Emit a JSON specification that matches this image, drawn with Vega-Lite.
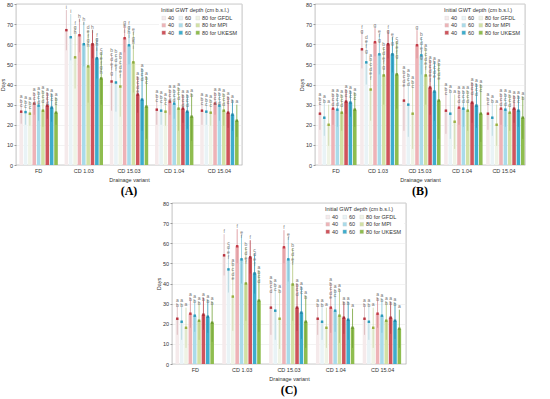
{
"$schema":"https://vega.github.io/schema/vega-lite/v6.json",
"padding":{"left":0,"top":1,"right":0,"bottom":0},
"datasets":{"all":[
{"p":"A","v":"FD","k":"G40","m":26.5,"lo":20.5,"hi":32.5,"L":"a b c"},
{"p":"A","v":"FD","k":"G60","m":26.3,"lo":20,"hi":32,"L":"a b c"},
{"p":"A","v":"FD","k":"G80","m":25.5,"lo":19.5,"hi":31.5,"L":"a b c"},
{"p":"A","v":"FD","k":"M40","m":30.5,"lo":25,"hi":36,"L":"a b c d"},
{"p":"A","v":"FD","k":"M60","m":29.5,"lo":22,"hi":36.5,"L":"a b c d"},
{"p":"A","v":"FD","k":"M80","m":27,"lo":19,"hi":37,"L":"a b c d"},
{"p":"A","v":"FD","k":"U40","m":29.5,"lo":23,"hi":36,"L":"a b c d"},
{"p":"A","v":"FD","k":"U60","m":28.5,"lo":21.5,"hi":35.5,"L":"a b c"},
{"p":"A","v":"FD","k":"U80","m":26,"lo":20,"hi":33.5,"L":"a b c"},
{"p":"A","v":"CD 1.03","k":"G40","m":67,"lo":57,"hi":77,"L":"i"},
{"p":"A","v":"CD 1.03","k":"G60","m":63.5,"lo":52,"hi":75,"L":"i"},
{"p":"A","v":"CD 1.03","k":"G80","m":53.5,"lo":38,"hi":69,"L":"f g h"},
{"p":"A","v":"CD 1.03","k":"M40","m":64.5,"lo":56,"hi":72.5,"L":"h i"},
{"p":"A","v":"CD 1.03","k":"M60","m":60,"lo":49,"hi":71,"L":"h i"},
{"p":"A","v":"CD 1.03","k":"M80","m":49,"lo":31,"hi":67,"L":"d e f g h"},
{"p":"A","v":"CD 1.03","k":"U40","m":60,"lo":53,"hi":67,"L":"h i"},
{"p":"A","v":"CD 1.03","k":"U60","m":53,"lo":43,"hi":63,"L":"f g h i"},
{"p":"A","v":"CD 1.03","k":"U80","m":43,"lo":30,"hi":56,"L":"c d e f g h"},
{"p":"A","v":"CD 15.03","k":"G40","m":41.5,"lo":27,"hi":55.5,"L":"b c d e f g"},
{"p":"A","v":"CD 15.03","k":"G60","m":41,"lo":26.5,"hi":55,"L":"b c d e f"},
{"p":"A","v":"CD 15.03","k":"G80","m":39,"lo":24,"hi":54,"L":"a b c d e f"},
{"p":"A","v":"CD 15.03","k":"M40","m":63,"lo":56,"hi":69.5,"L":"g h i"},
{"p":"A","v":"CD 15.03","k":"M60","m":59.5,"lo":50,"hi":69,"L":"f g h i"},
{"p":"A","v":"CD 15.03","k":"M80","m":51,"lo":36,"hi":66,"L":"e f g h i"},
{"p":"A","v":"CD 15.03","k":"U40","m":35,"lo":26,"hi":44,"L":"a b c d e"},
{"p":"A","v":"CD 15.03","k":"U60","m":32.5,"lo":17,"hi":48,"L":"a b c d"},
{"p":"A","v":"CD 15.03","k":"U80","m":29,"lo":13,"hi":44,"L":"a b c"},
{"p":"A","v":"CD 1.04","k":"G40","m":27.5,"lo":20,"hi":35,"L":"a b c"},
{"p":"A","v":"CD 1.04","k":"G60","m":27,"lo":20,"hi":34.5,"L":"a b c"},
{"p":"A","v":"CD 1.04","k":"G80","m":26.5,"lo":19.5,"hi":33.5,"L":"a b c"},
{"p":"A","v":"CD 1.04","k":"M40","m":31.5,"lo":25,"hi":37.5,"L":"a b c d"},
{"p":"A","v":"CD 1.04","k":"M60","m":30.5,"lo":23,"hi":37.5,"L":"a b c d"},
{"p":"A","v":"CD 1.04","k":"M80","m":28,"lo":17,"hi":38.5,"L":"a b c d"},
{"p":"A","v":"CD 1.04","k":"U40","m":28,"lo":21,"hi":35,"L":"a b c d"},
{"p":"A","v":"CD 1.04","k":"U60","m":26.5,"lo":18,"hi":35,"L":"a b c d"},
{"p":"A","v":"CD 1.04","k":"U80","m":24,"lo":12,"hi":35.5,"L":"a b"},
{"p":"A","v":"CD 15.04","k":"G40","m":27,"lo":20,"hi":33.5,"L":"a b c"},
{"p":"A","v":"CD 15.04","k":"G60","m":26.5,"lo":20,"hi":33,"L":"a b c"},
{"p":"A","v":"CD 15.04","k":"G80","m":26,"lo":19.5,"hi":32.5,"L":"a b c"},
{"p":"A","v":"CD 15.04","k":"M40","m":30.5,"lo":25,"hi":36,"L":"a b c d"},
{"p":"A","v":"CD 15.04","k":"M60","m":29.5,"lo":22,"hi":36,"L":"a b c d"},
{"p":"A","v":"CD 15.04","k":"M80","m":27,"lo":19.5,"hi":35.5,"L":"a b c d"},
{"p":"A","v":"CD 15.04","k":"U40","m":26,"lo":18.5,"hi":34,"L":"a b c"},
{"p":"A","v":"CD 15.04","k":"U60","m":25,"lo":17,"hi":32.5,"L":"a b"},
{"p":"A","v":"CD 15.04","k":"U80","m":22,"lo":14,"hi":30,"L":"a"},
{"p":"B","v":"FD","k":"G40","m":25.5,"lo":17.5,"hi":33.5,"L":"a b c"},
{"p":"B","v":"FD","k":"G60","m":23.5,"lo":14.5,"hi":32.5,"L":"a b"},
{"p":"B","v":"FD","k":"G80","m":20,"lo":9.5,"hi":30,"L":"a"},
{"p":"B","v":"FD","k":"M40","m":28,"lo":20,"hi":35.5,"L":"a b c d"},
{"p":"B","v":"FD","k":"M60","m":27.5,"lo":19,"hi":35.5,"L":"a b c d"},
{"p":"B","v":"FD","k":"M80","m":26,"lo":17,"hi":35,"L":"a b c d"},
{"p":"B","v":"FD","k":"U40","m":31.5,"lo":25.5,"hi":37.5,"L":"a b c"},
{"p":"B","v":"FD","k":"U60","m":31,"lo":24,"hi":37,"L":"a b c"},
{"p":"B","v":"FD","k":"U80","m":27.5,"lo":19,"hi":36,"L":"a b c"},
{"p":"B","v":"CD 1.03","k":"G40","m":57.5,"lo":48,"hi":67,"L":"f g"},
{"p":"B","v":"CD 1.03","k":"G60","m":51,"lo":40,"hi":62,"L":"d e f g"},
{"p":"B","v":"CD 1.03","k":"G80","m":37.5,"lo":22,"hi":53,"L":"a b c d e f"},
{"p":"B","v":"CD 1.03","k":"M40","m":61,"lo":54,"hi":68,"L":"g"},
{"p":"B","v":"CD 1.03","k":"M60","m":55,"lo":45,"hi":65,"L":"e f g"},
{"p":"B","v":"CD 1.03","k":"M80","m":44.5,"lo":30,"hi":58.5,"L":"b c d e f g"},
{"p":"B","v":"CD 1.03","k":"U40","m":60,"lo":53,"hi":67,"L":"f g"},
{"p":"B","v":"CD 1.03","k":"U60","m":55,"lo":46,"hi":63.5,"L":"e f g"},
{"p":"B","v":"CD 1.03","k":"U80","m":45,"lo":28,"hi":61.5,"L":"c d e f g"},
{"p":"B","v":"CD 15.03","k":"G40","m":32,"lo":17,"hi":47,"L":"a b c d e"},
{"p":"B","v":"CD 15.03","k":"G60","m":30,"lo":14,"hi":45.5,"L":"a b c d"},
{"p":"B","v":"CD 15.03","k":"G80","m":25.5,"lo":8,"hi":42,"L":"a b c"},
{"p":"B","v":"CD 15.03","k":"M40","m":59.5,"lo":53,"hi":67,"L":"g"},
{"p":"B","v":"CD 15.03","k":"M60","m":54.5,"lo":45,"hi":63.5,"L":"b c d e f g"},
{"p":"B","v":"CD 15.03","k":"M80","m":44.5,"lo":30,"hi":58,"L":"a b c d e f"},
{"p":"B","v":"CD 15.03","k":"U40","m":38.5,"lo":25,"hi":52,"L":"a b c d e f"},
{"p":"B","v":"CD 15.03","k":"U60","m":36.5,"lo":22,"hi":51.5,"L":"a b c d e"},
{"p":"B","v":"CD 15.03","k":"U80","m":32,"lo":13,"hi":50.5,"L":"a b c d e"},
{"p":"B","v":"CD 1.04","k":"G40","m":27,"lo":15.5,"hi":38.5,"L":"a b c"},
{"p":"B","v":"CD 1.04","k":"G60","m":25.5,"lo":13,"hi":37.5,"L":"a b"},
{"p":"B","v":"CD 1.04","k":"G80","m":21.5,"lo":8,"hi":35,"L":"a"},
{"p":"B","v":"CD 1.04","k":"M40","m":28.5,"lo":20,"hi":37,"L":"a b c d"},
{"p":"B","v":"CD 1.04","k":"M60","m":28,"lo":19,"hi":37,"L":"a b c d"},
{"p":"B","v":"CD 1.04","k":"M80","m":27,"lo":17,"hi":37,"L":"a b c d"},
{"p":"B","v":"CD 1.04","k":"U40","m":31,"lo":21,"hi":41,"L":"a b c d"},
{"p":"B","v":"CD 1.04","k":"U60","m":29.5,"lo":18.5,"hi":40.5,"L":"a b c d"},
{"p":"B","v":"CD 1.04","k":"U80","m":25.5,"lo":11.5,"hi":40,"L":"a b c"},
{"p":"B","v":"CD 15.04","k":"G40","m":25.5,"lo":17.5,"hi":33.5,"L":"a b c"},
{"p":"B","v":"CD 15.04","k":"G60","m":23.5,"lo":14.5,"hi":32.5,"L":"a b"},
{"p":"B","v":"CD 15.04","k":"G80","m":20,"lo":9.5,"hi":30,"L":"a"},
{"p":"B","v":"CD 15.04","k":"M40","m":28,"lo":20,"hi":35.5,"L":"a b c d"},
{"p":"B","v":"CD 15.04","k":"M60","m":27.5,"lo":19,"hi":35.5,"L":"a b c d"},
{"p":"B","v":"CD 15.04","k":"M80","m":26,"lo":17,"hi":35,"L":"a b c d"},
{"p":"B","v":"CD 15.04","k":"U40","m":28,"lo":21,"hi":34.5,"L":"a b c"},
{"p":"B","v":"CD 15.04","k":"U60","m":27,"lo":19,"hi":34.5,"L":"a b c"},
{"p":"B","v":"CD 15.04","k":"U80","m":23.5,"lo":13,"hi":34,"L":"a b"},
{"p":"C","v":"FD","k":"G40","m":22.5,"lo":14.5,"hi":30,"L":"a b"},
{"p":"C","v":"FD","k":"G60","m":21,"lo":12,"hi":30,"L":"a b"},
{"p":"C","v":"FD","k":"G80","m":18,"lo":8,"hi":28,"L":"a"},
{"p":"C","v":"FD","k":"M40","m":25,"lo":18,"hi":33,"L":"a b"},
{"p":"C","v":"FD","k":"M60","m":24,"lo":16,"hi":32,"L":"a b"},
{"p":"C","v":"FD","k":"M80","m":21.5,"lo":12,"hi":31,"L":"a b"},
{"p":"C","v":"FD","k":"U40","m":24.5,"lo":17,"hi":33,"L":"a b"},
{"p":"C","v":"FD","k":"U60","m":23.5,"lo":15.5,"hi":32,"L":"a b"},
{"p":"C","v":"FD","k":"U80","m":20.5,"lo":11,"hi":31,"L":"a b"},
{"p":"C","v":"CD 1.03","k":"G40","m":54,"lo":44,"hi":64.5,"L":"f"},
{"p":"C","v":"CD 1.03","k":"G60","m":47,"lo":35.5,"hi":58.5,"L":"c d e f"},
{"p":"C","v":"CD 1.03","k":"G80","m":33.5,"lo":16.5,"hi":50,"L":"a b c d e"},
{"p":"C","v":"CD 1.03","k":"M40","m":58.5,"lo":50,"hi":67,"L":"f"},
{"p":"C","v":"CD 1.03","k":"M60","m":52,"lo":40,"hi":64,"L":"e f"},
{"p":"C","v":"CD 1.03","k":"M80","m":40,"lo":21.5,"hi":58,"L":"b c d e f"},
{"p":"C","v":"CD 1.03","k":"U40","m":53,"lo":45,"hi":61.5,"L":"f"},
{"p":"C","v":"CD 1.03","k":"U60","m":45,"lo":35,"hi":55,"L":"c d e f"},
{"p":"C","v":"CD 1.03","k":"U80","m":31.5,"lo":16,"hi":46.5,"L":"a b c d"},
{"p":"C","v":"CD 15.03","k":"G40","m":28,"lo":14.5,"hi":41.5,"L":"a b c d"},
{"p":"C","v":"CD 15.03","k":"G60","m":26.5,"lo":12,"hi":40,"L":"a b c"},
{"p":"C","v":"CD 15.03","k":"G80","m":22.5,"lo":7.5,"hi":37,"L":"a b"},
{"p":"C","v":"CD 15.03","k":"M40","m":58,"lo":50,"hi":66.5,"L":"f"},
{"p":"C","v":"CD 15.03","k":"M60","m":52,"lo":41,"hi":63,"L":"e f"},
{"p":"C","v":"CD 15.03","k":"M80","m":39.5,"lo":21.5,"hi":57.5,"L":"b c d e f"},
{"p":"C","v":"CD 15.03","k":"U40","m":28,"lo":16.5,"hi":40,"L":"a b c d"},
{"p":"C","v":"CD 15.03","k":"U60","m":25.5,"lo":12.5,"hi":38.5,"L":"a b c"},
{"p":"C","v":"CD 15.03","k":"U80","m":21,"lo":8,"hi":34,"L":"a b"},
{"p":"C","v":"CD 1.04","k":"G40","m":22.5,"lo":14.5,"hi":30,"L":"a b"},
{"p":"C","v":"CD 1.04","k":"G60","m":21,"lo":12,"hi":30,"L":"a b"},
{"p":"C","v":"CD 1.04","k":"G80","m":18,"lo":8,"hi":28,"L":"a"},
{"p":"C","v":"CD 1.04","k":"M40","m":28,"lo":15.5,"hi":40.5,"L":"a b c d e"},
{"p":"C","v":"CD 1.04","k":"M60","m":26.5,"lo":16,"hi":37,"L":"a b c"},
{"p":"C","v":"CD 1.04","k":"M80","m":24,"lo":10.5,"hi":37.5,"L":"a b"},
{"p":"C","v":"CD 1.04","k":"U40","m":23,"lo":15,"hi":31,"L":"a b"},
{"p":"C","v":"CD 1.04","k":"U60","m":22,"lo":12,"hi":31,"L":"a b"},
{"p":"C","v":"CD 1.04","k":"U80","m":18,"lo":8,"hi":27.5,"L":"a"},
{"p":"C","v":"CD 15.04","k":"G40","m":22.5,"lo":14.5,"hi":30,"L":"a b"},
{"p":"C","v":"CD 15.04","k":"G60","m":21,"lo":12,"hi":30,"L":"a b"},
{"p":"C","v":"CD 15.04","k":"G80","m":18,"lo":8,"hi":28,"L":"a"},
{"p":"C","v":"CD 15.04","k":"M40","m":25,"lo":18,"hi":33,"L":"a b"},
{"p":"C","v":"CD 15.04","k":"M60","m":24,"lo":15.5,"hi":32.5,"L":"a b"},
{"p":"C","v":"CD 15.04","k":"M80","m":21.5,"lo":12,"hi":31,"L":"a b"},
{"p":"C","v":"CD 15.04","k":"U40","m":23,"lo":15,"hi":31,"L":"a b"},
{"p":"C","v":"CD 15.04","k":"U60","m":21.5,"lo":12.5,"hi":30.5,"L":"a b"},
{"p":"C","v":"CD 15.04","k":"U80","m":17.5,"lo":8,"hi":27,"L":"a"}
]},
"spacing":2,
"resolve":{"legend":{"fill":"independent"},"scale":{"fill":"independent","stroke":"independent","color":"independent"}},
"vconcat":[
{"hconcat":[
{"width":226,"height":161,"data":{"name":"all"},"transform":[{"filter":"datum.p=='A'"}],
"title":{"text":"(A)","orient":"bottom","font":"Liberation Serif","fontSize":12,"fontWeight":"bold","color":"#000","offset":3,"anchor":"middle"},
"encoding":{"x":{"field":"v","type":"nominal","sort":["FD","CD 1.03","CD 15.03","CD 1.04","CD 15.04"],"scale":{"paddingInner":0.15,"paddingOuter":0.075},"axis":{"title":"Drainage variant","labelAngle":0,"ticks":false,"labelPadding":3}},
"xOffset":{"field":"k","type":"nominal","sort":["G40","G60","G80","M40","M60","M80","U40","U60","U80"],"scale":{"paddingInner":0.18}}},
"layer":[
{"mark":{"type":"bar"},"encoding":{"y":{"field":"m","type":"quantitative","scale":{"domain":[0,80]},"axis":{"title":"Days","values":[0,10,20,30,40,50,60,70,80],"labelOverlap":false,"grid":true,"tickSize":2,"labelPadding":1.5,"titlePadding":1}},
"fill":{"field":"k","type":"nominal","scale":{"domain":["G40","M40","U40","G60","M60","U60","G80","M80","U80"],"range":["#f5eaeb","#eeb3b7","#cf545c","#e9f3f6","#a9dbea","#3eadcd","#eff3e5","#d2e1a4","#8fbd4f"]},
"legend":{"title":"Initial GWT depth (cm b.s.l.)","labelExpr":"slice(datum.value,1)=='80' ? '80 for ' + (slice(datum.value,0,1)=='G' ? 'GFDL' : slice(datum.value,0,1)=='M' ? 'MPI' : 'UKESM') : slice(datum.value,1)"}}}},
{"mark":{"type":"rule","strokeWidth":0.8},"encoding":{"y":{"field":"lo","type":"quantitative","scale":{"domain":[0,80]},"axis":{"title":"Days","values":[0,10,20,30,40,50,60,70,80],"labelOverlap":false,"grid":true,"tickSize":2,"labelPadding":1.5,"titlePadding":1}},"y2":{"field":"hi"},"stroke":{"field":"k","type":"nominal","scale":{"domain":["G40","G60","G80","M40","M60","M80","U40","U60","U80"],"range":["#d9b4b8","#b4d6e0","#cdd8a8","#d98d93","#7fc3d8","#b3c77a","#b33a44","#2a93b5","#75a33a"]},"legend":null}}},
{"mark":{"type":"square","size":6,"opacity":1},"encoding":{"y":{"field":"m","type":"quantitative","scale":{"domain":[0,80]},"axis":{"title":"Days","values":[0,10,20,30,40,50,60,70,80],"labelOverlap":false,"grid":true,"tickSize":2,"labelPadding":1.5,"titlePadding":1}},"color":{"field":"k","type":"nominal","scale":{"domain":["G40","G60","G80","M40","M60","M80","U40","U60","U80"],"range":["#b8323e","#2a9abb","#9ab040","#c43a46","#2a9abb","#8aaa3a","#a82a36","#1f86a8","#6c9a30"]},"legend":null}}},
{"mark":{"type":"text","fontSize":5,"lineBreak":" ","lineHeight":4.6,"baseline":"bottom","dy":-0.5,"color":"#777","font":"Liberation Sans"},"encoding":{"y":{"field":"hi","type":"quantitative","scale":{"domain":[0,80]},"axis":{"title":"Days","values":[0,10,20,30,40,50,60,70,80],"labelOverlap":false,"grid":true,"tickSize":2,"labelPadding":1.5,"titlePadding":1}},"text":{"field":"L"}}}
]},
{"width":210,"height":161,"data":{"name":"all"},"transform":[{"filter":"datum.p=='B'"}],
"title":{"text":"(B)","orient":"bottom","font":"Liberation Serif","fontSize":12,"fontWeight":"bold","color":"#000","offset":3,"anchor":"middle"},
"encoding":{"x":{"field":"v","type":"nominal","sort":["FD","CD 1.03","CD 15.03","CD 1.04","CD 15.04"],"scale":{"paddingInner":0.15,"paddingOuter":0.075},"axis":{"title":"Drainage variant","labelAngle":0,"ticks":false,"labelPadding":3}},
"xOffset":{"field":"k","type":"nominal","sort":["G40","G60","G80","M40","M60","M80","U40","U60","U80"],"scale":{"paddingInner":0.18}}},
"layer":[
{"mark":{"type":"bar"},"encoding":{"y":{"field":"m","type":"quantitative","scale":{"domain":[0,80]},"axis":{"title":"Days","values":[0,10,20,30,40,50,60,70,80],"labelOverlap":false,"grid":true,"tickSize":2,"labelPadding":1.5,"titlePadding":1}},
"fill":{"field":"k","type":"nominal","scale":{"domain":["G40","M40","U40","G60","M60","U60","G80","M80","U80"],"range":["#f5eaeb","#eeb3b7","#cf545c","#e9f3f6","#a9dbea","#3eadcd","#eff3e5","#d2e1a4","#8fbd4f"]},
"legend":{"title":"Initial GWT depth (cm b.s.l.)","labelExpr":"slice(datum.value,1)=='80' ? '80 for ' + (slice(datum.value,0,1)=='G' ? 'GFDL' : slice(datum.value,0,1)=='M' ? 'MPI' : 'UKESM') : slice(datum.value,1)"}}}},
{"mark":{"type":"rule","strokeWidth":0.8},"encoding":{"y":{"field":"lo","type":"quantitative","scale":{"domain":[0,80]},"axis":{"title":"Days","values":[0,10,20,30,40,50,60,70,80],"labelOverlap":false,"grid":true,"tickSize":2,"labelPadding":1.5,"titlePadding":1}},"y2":{"field":"hi"},"stroke":{"field":"k","type":"nominal","scale":{"domain":["G40","G60","G80","M40","M60","M80","U40","U60","U80"],"range":["#d9b4b8","#b4d6e0","#cdd8a8","#d98d93","#7fc3d8","#b3c77a","#b33a44","#2a93b5","#75a33a"]},"legend":null}}},
{"mark":{"type":"square","size":6,"opacity":1},"encoding":{"y":{"field":"m","type":"quantitative","scale":{"domain":[0,80]},"axis":{"title":"Days","values":[0,10,20,30,40,50,60,70,80],"labelOverlap":false,"grid":true,"tickSize":2,"labelPadding":1.5,"titlePadding":1}},"color":{"field":"k","type":"nominal","scale":{"domain":["G40","G60","G80","M40","M60","M80","U40","U60","U80"],"range":["#b8323e","#2a9abb","#9ab040","#c43a46","#2a9abb","#8aaa3a","#a82a36","#1f86a8","#6c9a30"]},"legend":null}}},
{"mark":{"type":"text","fontSize":5,"lineBreak":" ","lineHeight":4.6,"baseline":"bottom","dy":-0.5,"color":"#777","font":"Liberation Sans"},"encoding":{"y":{"field":"hi","type":"quantitative","scale":{"domain":[0,80]},"axis":{"title":"Days","values":[0,10,20,30,40,50,60,70,80],"labelOverlap":false,"grid":true,"tickSize":2,"labelPadding":1.5,"titlePadding":1}},"text":{"field":"L"}}}
]}
],"spacing":56,"resolve":{"legend":{"fill":"independent"},"scale":{"fill":"independent","stroke":"independent","color":"independent"}}},
{"hconcat":[
{"width":130,"height":10,"data":{"values":[{"a":1}]},"mark":{"type":"point","opacity":0},"encoding":{},"view":{"stroke":null}},
{"width":234,"height":161,"data":{"name":"all"},"transform":[{"filter":"datum.p=='C'"}],
"title":{"text":"(C)","orient":"bottom","font":"Liberation Serif","fontSize":12,"fontWeight":"bold","color":"#000","offset":3,"anchor":"middle"},
"encoding":{"x":{"field":"v","type":"nominal","sort":["FD","CD 1.03","CD 15.03","CD 1.04","CD 15.04"],"scale":{"paddingInner":0.15,"paddingOuter":0.075},"axis":{"title":"Drainage variant","labelAngle":0,"ticks":false,"labelPadding":3}},
"xOffset":{"field":"k","type":"nominal","sort":["G40","G60","G80","M40","M60","M80","U40","U60","U80"],"scale":{"paddingInner":0.18}}},
"layer":[
{"mark":{"type":"bar"},"encoding":{"y":{"field":"m","type":"quantitative","scale":{"domain":[0,80]},"axis":{"title":"Days","values":[0,10,20,30,40,50,60,70,80],"labelOverlap":false,"grid":true,"tickSize":2,"labelPadding":1.5,"titlePadding":1}},
"fill":{"field":"k","type":"nominal","scale":{"domain":["G40","M40","U40","G60","M60","U60","G80","M80","U80"],"range":["#f5eaeb","#eeb3b7","#cf545c","#e9f3f6","#a9dbea","#3eadcd","#eff3e5","#d2e1a4","#8fbd4f"]},
"legend":{"title":"Initial GWT depth (cm b.s.l.)","labelExpr":"slice(datum.value,1)=='80' ? '80 for ' + (slice(datum.value,0,1)=='G' ? 'GFDL' : slice(datum.value,0,1)=='M' ? 'MPI' : 'UKESM') : slice(datum.value,1)"}}}},
{"mark":{"type":"rule","strokeWidth":0.8},"encoding":{"y":{"field":"lo","type":"quantitative","scale":{"domain":[0,80]},"axis":{"title":"Days","values":[0,10,20,30,40,50,60,70,80],"labelOverlap":false,"grid":true,"tickSize":2,"labelPadding":1.5,"titlePadding":1}},"y2":{"field":"hi"},"stroke":{"field":"k","type":"nominal","scale":{"domain":["G40","G60","G80","M40","M60","M80","U40","U60","U80"],"range":["#d9b4b8","#b4d6e0","#cdd8a8","#d98d93","#7fc3d8","#b3c77a","#b33a44","#2a93b5","#75a33a"]},"legend":null}}},
{"mark":{"type":"square","size":6,"opacity":1},"encoding":{"y":{"field":"m","type":"quantitative","scale":{"domain":[0,80]},"axis":{"title":"Days","values":[0,10,20,30,40,50,60,70,80],"labelOverlap":false,"grid":true,"tickSize":2,"labelPadding":1.5,"titlePadding":1}},"color":{"field":"k","type":"nominal","scale":{"domain":["G40","G60","G80","M40","M60","M80","U40","U60","U80"],"range":["#b8323e","#2a9abb","#9ab040","#c43a46","#2a9abb","#8aaa3a","#a82a36","#1f86a8","#6c9a30"]},"legend":null}}},
{"mark":{"type":"text","fontSize":5,"lineBreak":" ","lineHeight":4.6,"baseline":"bottom","dy":-0.5,"color":"#777","font":"Liberation Sans"},"encoding":{"y":{"field":"hi","type":"quantitative","scale":{"domain":[0,80]},"axis":{"title":"Days","values":[0,10,20,30,40,50,60,70,80],"labelOverlap":false,"grid":true,"tickSize":2,"labelPadding":1.5,"titlePadding":1}},"text":{"field":"L"}}}
]}
],"spacing":10,"resolve":{"legend":{"fill":"independent"},"scale":{"fill":"independent","stroke":"independent","color":"independent"}}}
],
"config":{
"view":{"stroke":"#999","strokeWidth":0.6},
"axis":{"labelFont":"Liberation Sans","titleFont":"Liberation Sans","labelFontSize":5.5,"titleFontSize":5.5,"titleFontWeight":"normal","labelColor":"#333","titleColor":"#333","gridColor":"#e6e6e6","gridWidth":0.5,"tickColor":"#999","domain":false},
"legend":{"orient":"top-right","offset":2,"titleFont":"Liberation Sans","labelFont":"Liberation Sans","titleFontSize":5.5,"titleFontWeight":"normal","titleColor":"#333","labelColor":"#333","labelFontSize":5.5,"symbolType":"square","symbolSize":14,"symbolStrokeColor":"#ccc","symbolStrokeWidth":0.3,"columns":3,"rowPadding":0.5,"columnPadding":3,"labelOffset":1.5,"titlePadding":1.5,"padding":2,"fillColor":"white"}
}
}
